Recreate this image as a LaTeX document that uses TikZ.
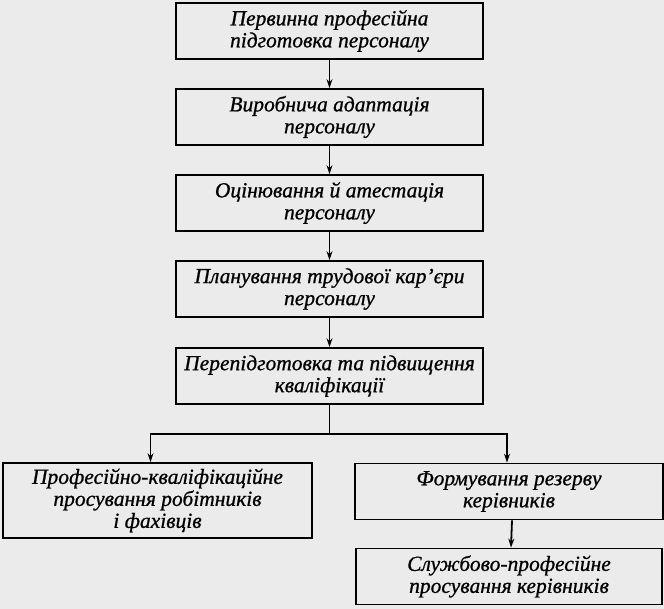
\documentclass[tikz,border=0pt]{standalone}
\usepackage{fontspec}
\setmainfont{Liberation Serif}[ItalicFeatures={FakeBold=0.8}]
\usetikzlibrary{positioning,arrows.meta}

\begin{document}
\begin{tikzpicture}[x=1pt, y=1pt, node distance=86pt, auto,
        box/.style={draw, line width=1.8pt, minimum width=307pt, minimum height=56pt,
            align=center, inner sep=2pt, font=\itshape\fontsize{21.5}{22}\selectfont},
        link/.style={->, line width=1.8pt},
        >={Stealth[length=9pt, width=6pt]}]
        \fill[black!8] (0,0) rectangle (664,-609);
        \useasboundingbox (0,0) rectangle (664,-609);

        \node (p1) [box] at (329.5,-31) {Первинна професійна\\підготовка персоналу};
        \node (p2) [box, below of=p1] {Виробнича адаптація\\персоналу};
        \node (p3) [box, below of=p2] {Оцінювання й атестація\\персоналу};
        \node (p4) [box, below of=p3] {Планування трудової кар'єри\\персоналу};
        \node (p5) [box, below of=p4, node distance=87pt] {Перепідготовка та підвищення\\кваліфікації};

        \node (w1) [box, minimum width=309pt, minimum height=75pt] at (157.5,-500.5) {Професійно-кваліфікаційне\\просування робітників\\і фахівців};
        \node (k1) [box, minimum width=308pt] at (509,-491.5) {Формування резерву\\керівників};
        \node (k2) [box, minimum width=306pt, below of=k1, node distance=85pt] {Службово-професійне\\просування керівників};

        \draw[link] (p1) -- (p2);
        \draw[link] (p2) -- (p3);
        \draw[link] (p3) -- (p4);
        \draw[link] (p4) -- (p5);

        \coordinate (fork) at ([yshift=-29pt]p5.south);
        \draw[line width=1.8pt] (p5) -- (fork);
        \draw[link] (fork) -| ([xshift=-7pt]w1.north);
        \draw[link] (fork) -| ([xshift=-2pt]k1.north);
        \draw[link] ([xshift=3pt]k1.south) -- ([xshift=2pt]k2.north);

    \end{tikzpicture}
\end{document}
